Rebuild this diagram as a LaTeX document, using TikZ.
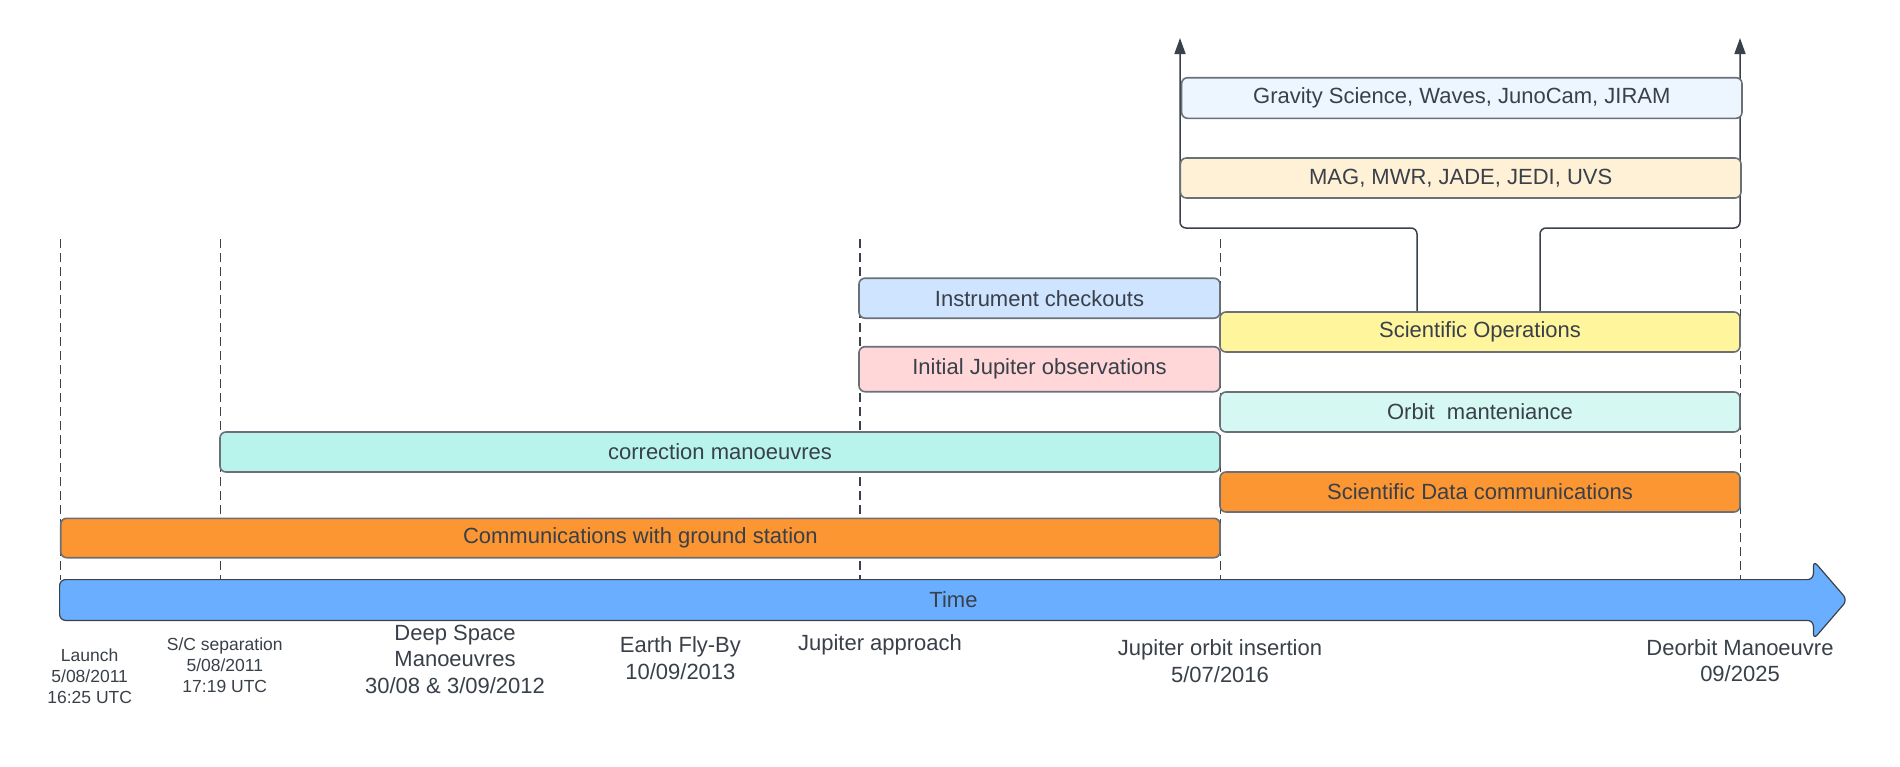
\documentclass[tikz,border=0pt]{standalone}
\usepackage{fontspec}
\setmainfont{Liberation Sans}
\usetikzlibrary{arrows.meta,calc,backgrounds}
\definecolor{txt}{HTML}{394049}
\definecolor{edge}{HTML}{6B7078}
\definecolor{ln}{HTML}{3A414A}
\definecolor{cOrange}{HTML}{FB9632}
\definecolor{cCorr}{HTML}{B8F4EC}
\definecolor{cOrbit}{HTML}{D6F8F2}
\definecolor{cInstr}{HTML}{CFE4FF}
\definecolor{cInit}{HTML}{FFD7D9}
\definecolor{cSci}{HTML}{FEF59C}
\definecolor{cMag}{HTML}{FFF1D6}
\definecolor{cGrav}{HTML}{EDF5FF}
\definecolor{cTime}{HTML}{6AAFFF}
\begin{document}
\begin{tikzpicture}[x=0.5pt,y=-0.5pt,
  taskbox/.style={draw=edge,line width=0.8pt,rounded corners=3pt,inner sep=0pt,
    text=txt,font=\fontsize{11}{13}\selectfont,anchor=center},
  guide/.style={draw=ln,line width=0.6pt,dash pattern=on 4.5pt off 2.5pt},
  conn/.style={draw=ln,line width=0.75pt,rounded corners=3pt},
  arr/.style={conn,-{Triangle[length=8pt,width=5.5pt]}},
  lbl/.style={text=txt,align=center,font=\fontsize{11}{13.3}\selectfont,inner sep=0pt,anchor=center},
  slbl/.style={text=txt,align=center,font=\fontsize{8.75}{10.5}\selectfont,inner sep=0pt,anchor=center}]
\useasboundingbox (0,0) rectangle (1900,766);

% time arrow frame
\node[inner sep=0pt,minimum width=893.5pt,minimum height=20pt] (time) at (953.5,600) {};
\fill[cTime,draw=ln,line width=0.6pt,rounded corners=3pt]
  (time.north west) -- ($(time.north east)+(-34,0)$) -- ($(time.north east)+(-34,-19)$)
  -- (time.east) -- ($(time.south east)+(-34,19)$) -- ($(time.south east)+(-34,0)$)
  -- (time.south west) -- cycle;
\node[lbl] (timelabel) at (time.center) {Time};

% bars
\node[taskbox,fill=cOrange,minimum width=579.65pt,minimum height=19.7pt] (comms) at (640.35,538) {Communications with ground station};
\node[taskbox,fill=cCorr,minimum width=500pt,minimum height=20pt] (corr) at (720,452) {correction manoeuvres};
\node[taskbox,fill=cInstr,minimum width=180.5pt,minimum height=20pt] (instr) at (1039.5,298.2) {Instrument checkouts};
\node[taskbox,fill=cInit,minimum width=180.5pt,minimum height=22.5pt] (init) at (1039.5,369.2) {Initial Jupiter observations};
\node[taskbox,fill=cSci,minimum width=260pt,minimum height=20pt] (sciops) at (1480,332) {Scientific Operations};
\node[taskbox,fill=cOrbit,minimum width=260pt,minimum height=20pt] (orbit) at (1480,412) {Orbit~~manteniance};
\node[taskbox,fill=cOrange,minimum width=260pt,minimum height=20pt] (scidata) at (1480,492) {Scientific Data communications};
\node[taskbox,fill=cMag,minimum width=280.3pt,minimum height=20pt] (mag) at (1460.7,178) {MAG, MWR, JADE, JEDI, UVS};
\node[taskbox,fill=cGrav,minimum width=280.2pt,minimum height=20.3pt] (grav) at (1461.8,98) {Gravity Science, Waves, JunoCam, JIRAM};

% guides and connectors behind
\coordinate (g1) at (60.7,239);
\coordinate (g2) at (220.3,239);
\coordinate (g3) at (860,239);
\coordinate (g4) at (1220.3,239);
\coordinate (g5) at (1740.5,239);
\coordinate (jL) at (1180,228);
\coordinate (jR) at (1740,228);
\coordinate (tipL) at (1180,38);
\coordinate (tipR) at (1740,38);
\begin{scope}[on background layer]
\fill[white] (0,0) rectangle (1900,766);
\foreach \g in {g1,g2,g3,g4,g5} \draw[guide] (\g) -- (\g |- time.north);
\draw[arr] ($(sciops.north)+(-63,0)$) |- (jL) -- (tipL);
\draw[arr] ($(sciops.north)+(60,0)$) |- (jR) -- (tipR);
\end{scope}

% milestone labels
\node[slbl] (launch) at (89.7,676) {Launch\\5/08/2011\\16:25 UTC};
\node[slbl] (sep) at (224.8,665.5) {S/C separation\\5/08/2011\\17:19 UTC};
\node[lbl] (dsm) at (455,659.3) {Deep Space\\Manoeuvres\\30/08 \& 3/09/2012};
\node[lbl] (efb) at (680.4,658) {Earth Fly-By\\10/09/2013};
\node[lbl] (japp) at (880,645) {Jupiter approach};
\node[lbl] (joi) at (1220,661) {Jupiter orbit insertion\\5/07/2016};
\node[lbl] (deorb) at (1740,660.7) {Deorbit Manoeuvre\\09/2025};
\end{tikzpicture}
\end{document}
